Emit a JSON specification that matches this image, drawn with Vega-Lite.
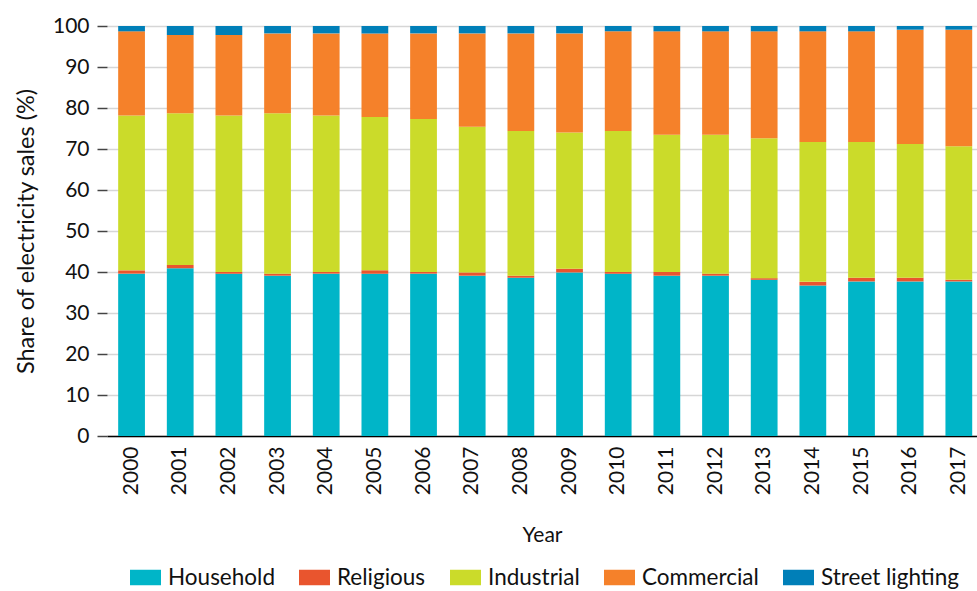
{
  "$schema": "https://vega.github.io/schema/vega-lite/v6.json",
  "width": 870,
  "height": 410,
  "autosize": {"type": "none"},
  "padding": {"left": 107, "top": 26, "right": 0, "bottom": 155},
  "config": {
    "font": "Lato",
    "view": {"stroke": null},
    "axis": {"labelFont": "Lato", "titleFont": "Lato", "labelColor": "#111111", "titleColor": "#111111", "titleFontWeight": "normal"}
  },
  "data": {
    "values": [
      {"Year": "2000", "Sector": "Household", "Share": 39.6},
      {"Year": "2000", "Sector": "Religious", "Share": 0.8},
      {"Year": "2000", "Sector": "Industrial", "Share": 37.8},
      {"Year": "2000", "Sector": "Commercial", "Share": 20.5},
      {"Year": "2000", "Sector": "Street lighting", "Share": 1.3},
      {"Year": "2001", "Sector": "Household", "Share": 40.9},
      {"Year": "2001", "Sector": "Religious", "Share": 0.8},
      {"Year": "2001", "Sector": "Industrial", "Share": 37.0},
      {"Year": "2001", "Sector": "Commercial", "Share": 19.1},
      {"Year": "2001", "Sector": "Street lighting", "Share": 2.2},
      {"Year": "2002", "Sector": "Household", "Share": 39.6},
      {"Year": "2002", "Sector": "Religious", "Share": 0.4},
      {"Year": "2002", "Sector": "Industrial", "Share": 38.2},
      {"Year": "2002", "Sector": "Commercial", "Share": 19.6},
      {"Year": "2002", "Sector": "Street lighting", "Share": 2.2},
      {"Year": "2003", "Sector": "Household", "Share": 39.1},
      {"Year": "2003", "Sector": "Religious", "Share": 0.5},
      {"Year": "2003", "Sector": "Industrial", "Share": 39.1},
      {"Year": "2003", "Sector": "Commercial", "Share": 19.5},
      {"Year": "2003", "Sector": "Street lighting", "Share": 1.8},
      {"Year": "2004", "Sector": "Household", "Share": 39.6},
      {"Year": "2004", "Sector": "Religious", "Share": 0.4},
      {"Year": "2004", "Sector": "Industrial", "Share": 38.2},
      {"Year": "2004", "Sector": "Commercial", "Share": 20.0},
      {"Year": "2004", "Sector": "Street lighting", "Share": 1.8},
      {"Year": "2005", "Sector": "Household", "Share": 39.6},
      {"Year": "2005", "Sector": "Religious", "Share": 0.8},
      {"Year": "2005", "Sector": "Industrial", "Share": 37.4},
      {"Year": "2005", "Sector": "Commercial", "Share": 20.4},
      {"Year": "2005", "Sector": "Street lighting", "Share": 1.8},
      {"Year": "2006", "Sector": "Household", "Share": 39.6},
      {"Year": "2006", "Sector": "Religious", "Share": 0.4},
      {"Year": "2006", "Sector": "Industrial", "Share": 37.3},
      {"Year": "2006", "Sector": "Commercial", "Share": 20.9},
      {"Year": "2006", "Sector": "Street lighting", "Share": 1.8},
      {"Year": "2007", "Sector": "Household", "Share": 39.1},
      {"Year": "2007", "Sector": "Religious", "Share": 0.8},
      {"Year": "2007", "Sector": "Industrial", "Share": 35.5},
      {"Year": "2007", "Sector": "Commercial", "Share": 22.8},
      {"Year": "2007", "Sector": "Street lighting", "Share": 1.8},
      {"Year": "2008", "Sector": "Household", "Share": 38.6},
      {"Year": "2008", "Sector": "Religious", "Share": 0.5},
      {"Year": "2008", "Sector": "Industrial", "Share": 35.3},
      {"Year": "2008", "Sector": "Commercial", "Share": 23.8},
      {"Year": "2008", "Sector": "Street lighting", "Share": 1.8},
      {"Year": "2009", "Sector": "Household", "Share": 39.9},
      {"Year": "2009", "Sector": "Religious", "Share": 0.9},
      {"Year": "2009", "Sector": "Industrial", "Share": 33.2},
      {"Year": "2009", "Sector": "Commercial", "Share": 24.2},
      {"Year": "2009", "Sector": "Street lighting", "Share": 1.8},
      {"Year": "2010", "Sector": "Household", "Share": 39.6},
      {"Year": "2010", "Sector": "Religious", "Share": 0.4},
      {"Year": "2010", "Sector": "Industrial", "Share": 34.4},
      {"Year": "2010", "Sector": "Commercial", "Share": 24.3},
      {"Year": "2010", "Sector": "Street lighting", "Share": 1.3},
      {"Year": "2011", "Sector": "Household", "Share": 39.1},
      {"Year": "2011", "Sector": "Religious", "Share": 0.9},
      {"Year": "2011", "Sector": "Industrial", "Share": 33.5},
      {"Year": "2011", "Sector": "Commercial", "Share": 25.2},
      {"Year": "2011", "Sector": "Street lighting", "Share": 1.3},
      {"Year": "2012", "Sector": "Household", "Share": 39.1},
      {"Year": "2012", "Sector": "Religious", "Share": 0.5},
      {"Year": "2012", "Sector": "Industrial", "Share": 33.9},
      {"Year": "2012", "Sector": "Commercial", "Share": 25.2},
      {"Year": "2012", "Sector": "Street lighting", "Share": 1.3},
      {"Year": "2013", "Sector": "Household", "Share": 38.1},
      {"Year": "2013", "Sector": "Religious", "Share": 0.4},
      {"Year": "2013", "Sector": "Industrial", "Share": 34.1},
      {"Year": "2013", "Sector": "Commercial", "Share": 26.1},
      {"Year": "2013", "Sector": "Street lighting", "Share": 1.3},
      {"Year": "2014", "Sector": "Household", "Share": 36.7},
      {"Year": "2014", "Sector": "Religious", "Share": 0.9},
      {"Year": "2014", "Sector": "Industrial", "Share": 34.1},
      {"Year": "2014", "Sector": "Commercial", "Share": 27.0},
      {"Year": "2014", "Sector": "Street lighting", "Share": 1.3},
      {"Year": "2015", "Sector": "Household", "Share": 37.7},
      {"Year": "2015", "Sector": "Religious", "Share": 0.9},
      {"Year": "2015", "Sector": "Industrial", "Share": 33.1},
      {"Year": "2015", "Sector": "Commercial", "Share": 27.0},
      {"Year": "2015", "Sector": "Street lighting", "Share": 1.3},
      {"Year": "2016", "Sector": "Household", "Share": 37.7},
      {"Year": "2016", "Sector": "Religious", "Share": 0.9},
      {"Year": "2016", "Sector": "Industrial", "Share": 32.6},
      {"Year": "2016", "Sector": "Commercial", "Share": 27.9},
      {"Year": "2016", "Sector": "Street lighting", "Share": 0.9},
      {"Year": "2017", "Sector": "Household", "Share": 37.7},
      {"Year": "2017", "Sector": "Religious", "Share": 0.4},
      {"Year": "2017", "Sector": "Industrial", "Share": 32.6},
      {"Year": "2017", "Sector": "Commercial", "Share": 28.4},
      {"Year": "2017", "Sector": "Street lighting", "Share": 0.9}
    ]
  },
  "transform": [
    {"calculate": "indexof(['Household','Religious','Industrial','Commercial','Street lighting'], datum.Sector)", "as": "stackOrder"}
  ],
  "mark": {"type": "bar"},
  "encoding": {
    "x": {
      "field": "Year",
      "type": "ordinal",
      "scale": {"paddingInner": 0.45, "paddingOuter": 0.164, "align": 0.7},
      "axis": {
        "title": "Year",
        "titleFontSize": 21,
        "titlePadding": 30,
        "labelAngle": -90,
        "labelFontSize": 21,
        "labelPadding": 10,
        "ticks": false,
        "domain": true,
        "domainColor": "#000000",
        "domainWidth": 1.5
      }
    },
    "y": {
      "field": "Share",
      "type": "quantitative",
      "stack": "zero",
      "scale": {"domain": [0, 100], "nice": false},
      "axis": {
        "title": "Share of electricity sales (%)",
        "titleFontSize": 23.5,
        "titlePadding": 14,
        "values": [0, 10, 20, 30, 40, 50, 60, 70, 80, 90, 100],
        "labelFontSize": 21,
        "labelPadding": 8,
        "tickSize": 10,
        "tickColor": "#444444",
        "tickWidth": 1.5,
        "domain": false,
        "gridColor": "#d6d6d6",
        "gridWidth": 1.5
      }
    },
    "color": {
      "field": "Sector",
      "type": "nominal",
      "scale": {
        "domain": ["Household", "Religious", "Industrial", "Commercial", "Street lighting"],
        "range": ["#00b5c8", "#e9552e", "#cbdb2a", "#f5812a", "#007fb8"]
      },
      "legend": {
        "title": null,
        "orient": "none",
        "direction": "horizontal",
        "legendX": 23,
        "legendY": 536,
        "symbolType": "M-1,-0.5H1V0.5H-1Z",
        "symbolSize": 961,
        "symbolStrokeWidth": 0,
        "labelFontSize": 22.5,
        "labelFont": "Lato",
        "labelColor": "#111111",
        "labelOffset": 7,
        "columnPadding": 24,
        "labelLimit": 300
      }
    },
    "order": {"field": "stackOrder", "type": "quantitative", "sort": "ascending"}
  }
}
